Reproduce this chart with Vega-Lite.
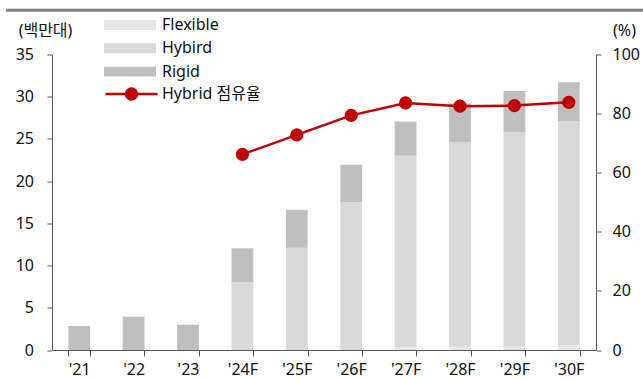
{
  "$schema": "https://vega.github.io/schema/vega-lite/v6.json",
  "width": 544,
  "height": 295.5,
  "autosize": {"type": "none"},
  "padding": {"left": 52, "top": 54.5, "right": 47, "bottom": 29},
  "config": {
    "view": {"stroke": null},
    "font": "Noto Sans, Noto Sans CJK KR",
    "axis": {
      "domainColor": "#595959",
      "tickColor": "#595959",
      "labelColor": "#111111",
      "titleColor": "#111111",
      "labelFontSize": 16,
      "titleFontSize": 16,
      "titleFontWeight": "normal",
      "grid": false,
      "domainWidth": 1,
      "tickWidth": 1
    },
    "legend": {
      "labelFontSize": 16,
      "labelColor": "#111111",
      "padding": 0
    }
  },
  "layer": [
    {
      "data": {"values": [{"k": "top"}]},
      "mark": {"type": "rect", "fill": "#808080", "clip": false},
      "encoding": {
        "x": {"datum": -0.0846, "type": "quantitative", "scale": {"domain": [0, 1], "nice": false, "zero": false}, "axis": null},
        "x2": {"datum": 1.0864},
        "y": {"datum": 1.145, "type": "quantitative", "scale": {"domain": [0, 1], "nice": false, "zero": false}, "axis": null},
        "y2": {"datum": 1.155}
      }
    },
    {
      "data": {
        "values": [
          {"year": "'21", "type": "Rigid", "ord": 3, "value": 2.85},
          {"year": "'22", "type": "Rigid", "ord": 3, "value": 3.95},
          {"year": "'23", "type": "Rigid", "ord": 3, "value": 3.0},
          {"year": "'24F", "type": "Hybird", "ord": 2, "value": 8.0},
          {"year": "'24F", "type": "Rigid", "ord": 3, "value": 4.05},
          {"year": "'25F", "type": "Hybird", "ord": 2, "value": 12.1},
          {"year": "'25F", "type": "Rigid", "ord": 3, "value": 4.5},
          {"year": "'26F", "type": "Hybird", "ord": 2, "value": 17.5},
          {"year": "'26F", "type": "Rigid", "ord": 3, "value": 4.45},
          {"year": "'27F", "type": "Flexible", "ord": 1, "value": 0.3},
          {"year": "'27F", "type": "Hybird", "ord": 2, "value": 22.7},
          {"year": "'27F", "type": "Rigid", "ord": 3, "value": 4.05},
          {"year": "'28F", "type": "Flexible", "ord": 1, "value": 0.45},
          {"year": "'28F", "type": "Hybird", "ord": 2, "value": 24.15},
          {"year": "'28F", "type": "Rigid", "ord": 3, "value": 4.6},
          {"year": "'29F", "type": "Flexible", "ord": 1, "value": 0.4},
          {"year": "'29F", "type": "Hybird", "ord": 2, "value": 25.43},
          {"year": "'29F", "type": "Rigid", "ord": 3, "value": 4.85},
          {"year": "'30F", "type": "Flexible", "ord": 1, "value": 0.55},
          {"year": "'30F", "type": "Hybird", "ord": 2, "value": 26.55},
          {"year": "'30F", "type": "Rigid", "ord": 3, "value": 4.6}
        ]
      },
      "mark": {"type": "bar"},
      "encoding": {
        "x": {
          "field": "year",
          "type": "nominal",
          "sort": null,
          "scale": {
            "type": "band",
            "domain": ["'21", "'22", "'23", "'24F", "'25F", "'26F", "'27F", "'28F", "'29F", "'30F"],
            "paddingInner": 0.6,
            "paddingOuter": 0.3
          },
          "axis": {
            "title": null,
            "labelAngle": 0,
            "tickBand": "extent",
            "tickSize": 6,
            "labelPadding": 13.5,
            "labelBaseline": "middle"
          }
        },
        "y": {
          "field": "value",
          "type": "quantitative",
          "stack": "zero",
          "scale": {"domain": [0, 35], "nice": false},
          "axis": {
            "orient": "left",
            "values": [0, 5, 10, 15, 20, 25, 30, 35],
            "tickSize": 5,
            "labelPadding": 13.5,
            "title": "(백만대)",
            "titleAngle": 0,
            "titleX": -7,
            "titleY": -24.5,
            "titleAlign": "center",
            "titleBaseline": "middle"
          }
        },
        "color": {
          "field": "type",
          "type": "nominal",
          "scale": {
            "domain": ["Flexible", "Hybird", "Rigid"],
            "range": ["#e6e6e6", "#d9d9d9", "#bfbfbf"]
          },
          "legend": {
            "title": null,
            "orient": "none",
            "legendX": 52,
            "legendY": -37.5,
            "symbolType": "M-1,-0.19H1V0.19H-1Z",
            "symbolSize": 2704,
            "symbolStrokeWidth": 0,
            "clipHeight": 16,
            "rowPadding": 7.3,
            "labelOffset": 6
          }
        },
        "order": {"field": "ord", "type": "quantitative"}
      }
    },
    {
      "data": {
        "values": [
          {"year": "'24F", "share": 66.2},
          {"year": "'25F", "share": 72.8},
          {"year": "'26F", "share": 79.4},
          {"year": "'27F", "share": 83.6},
          {"year": "'28F", "share": 82.5},
          {"year": "'29F", "share": 82.7},
          {"year": "'30F", "share": 83.8}
        ]
      },
      "mark": {
        "type": "line",
        "strokeWidth": 2.5,
        "point": {"filled": true, "size": 125, "color": "#c00000"}
      },
      "encoding": {
        "x": {
          "field": "year",
          "type": "nominal",
          "sort": null,
          "scale": {
            "type": "band",
            "domain": ["'21", "'22", "'23", "'24F", "'25F", "'26F", "'27F", "'28F", "'29F", "'30F"],
            "paddingInner": 0.6,
            "paddingOuter": 0.3
          },
          "axis": null
        },
        "y": {
          "field": "share",
          "type": "quantitative",
          "scale": {"domain": [0, 100], "nice": false},
          "axis": {
            "orient": "right",
            "values": [0, 20, 40, 60, 80, 100],
            "tickSize": 5,
            "labelPadding": 11,
            "title": "(%)",
            "titleAngle": 0,
            "titleX": 28,
            "titleY": -24.5,
            "titleAlign": "center",
            "titleBaseline": "middle"
          }
        },
        "stroke": {
          "datum": "Hybrid 점유율",
          "type": "nominal",
          "scale": {"range": ["#c00000"]},
          "legend": {
            "title": null,
            "orient": "none",
            "legendX": 52,
            "legendY": 31.5,
            "symbolType": "M-1,0H1M-0.21,0A0.21,0.21,0,1,1,0.21,0A0.21,0.21,0,1,1,-0.21,0Z",
            "symbolSize": 2704,
            "symbolStrokeWidth": 2.5,
            "symbolFillColor": "#c00000",
            "clipHeight": 16,
            "labelOffset": 3,
            "encode": {"symbols": {"update": {"fill": {"value": "#c00000"}, "stroke": {"value": "#c00000"}}}}
          }
        }
      }
    }
  ],
  "resolve": {"scale": {"x": "independent", "y": "independent"}}
}
